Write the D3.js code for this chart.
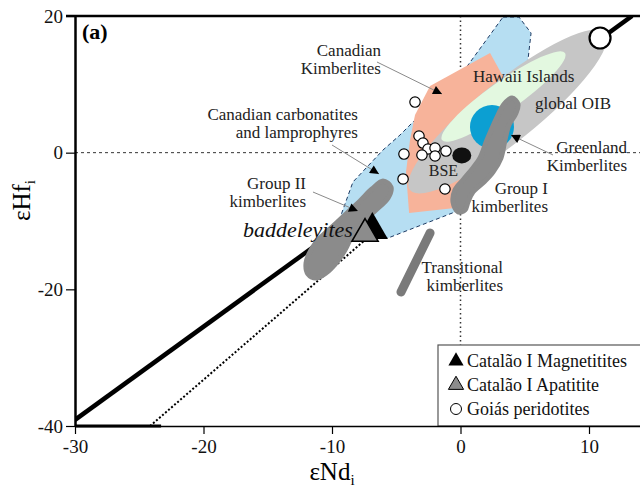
<!DOCTYPE html>
<meta charset="utf-8">
<style>

body {
  margin: 0;
  background: #fff;
}

svg, svg text {
  font-family: "Liberation Serif", "Times New Roman", Times, "DejaVu Serif", "Noto Serif", serif;
}

</style>
<body>
<script src="https://d3js.org/d3.v7.min.js"></script>
<script>

// axis ticks
var xTicks = [-30, -20, -10, 0, 10],
    yTicks = [-40, -20, 0, 20];

// reference lines, [εNd, εHf]
var terrestrialArray = [[-30, -39.1], [13.35, 20]],
    lowerArray = [[-24.16, -40], [-7.43, -12.78]];

// fields
var carbonatiteField = [[3.31, 19.85], [4.55, 19.85], [5.49, 17.51], [5.25, 13.56], [3.07, 7.71], [0.74, -6.93],
    [-0.43, -8.68], [-5.64, -12.49], [-9.38, -9.56], [-8.37, -4.29], [-6.03, 0.39], [-4.71, 2.58], [0.19, 11.80]];
var canadianKimberliteField = [[-2.37, 9.76], [2.30, 14.58], [3.46, 10.63], [0.74, -5.46], [-0.43, -8.10],
    [-4.0, -8.83], [-4.24, -2.83], [-3.93, 1.85], [-3.54, 5.51]];
var groupIField = [[4.01, 8.0], [4.47, 7.12], [4.32, 5.80], [3.77, 4.05], [3.46, 1.85], [3.15, -0.78], [2.53, -2.83],
    [1.83, -4.29], [0.97, -5.76], [0.58, -7.22], [0.35, -8.39], [-0.19, -8.68], [-0.58, -7.22], [-0.43, -5.46],
    [0.19, -4.0], [0.97, -2.24], [1.52, -0.78], [2.06, 1.85], [2.53, 3.90], [2.92, 5.51], [3.39, 7.12]];
var groupIIField = [[-6.03, -4.15], [-5.41, -5.03], [-5.64, -6.64], [-6.58, -8.39], [-7.59, -10.15], [-8.44, -12.20],
    [-8.99, -14.25], [-9.69, -16.15], [-10.47, -17.61], [-11.25, -18.34], [-11.87, -17.76], [-12.02, -16.15],
    [-11.63, -14.25], [-10.93, -12.49], [-9.92, -10.73], [-8.83, -8.83], [-7.82, -7.07], [-6.89, -5.32]];
var transitionalField = [[-2.37, -11.76], [-4.63, -20.39]];

// ellipse fields given by the ends of their long axis
var globalOIB = [[-3.93, -5.46], [11.25, 17.51]],
    hawaii = [[-1.44, 1.85], [8.13, 14.58]];
var greenland = [2.45, 3.76],
    bse = [0.1, -0.4];

// samples
var magnetitites = [[-6.86, -11.32]],
    apatitite = [[-7.43, -11.86]],
    goiasPeridotites = [[-3.54, 7.41], [-3.23, 2.44], [-2.92, 1.41], [-2.53, 0.54], [-1.98, 0.68], [-1.13, 0.24],
      [-4.40, -0.2], [-3.0, -0.34], [-1.98, -0.49], [-4.47, -3.85], [-1.21, -5.32]],
    goiasEndMember = [[10.86, 16.78]];

// labels: text lines, anchor point [εNd, εHf], alignment
var labels = [
  {lines: ["Canadian", "Kimberlites"], at: [-6.19, 14.15], anchor: "end"},
  {lines: ["Canadian carbonatites", "and lamprophyres"], at: [-7.98, 4.78], anchor: "end"},
  {lines: ["Group II", "kimberlites"], at: [-12.02, -5.32], anchor: "end"},
  {lines: ["Greenland", "Kimberlites"], at: [12.96, -0.05], anchor: "end"},
  {lines: ["Hawaii Islands"], at: [0.97, 10.34], anchor: "start"},
  {lines: ["global OIB"], at: [5.80, 6.39], anchor: "start"},
  {lines: ["Group I", "kimberlites"], at: [6.81, -6.05], anchor: "end"},
  {lines: ["Transitional", "kimberlites"], at: [3.31, -17.61], anchor: "end"}
];
var arrows = [
  [[-6.50, 13.27], [-1.44, 8.58]],
  [[-10.0, 1.12], [-6.34, -3.12]],
  [[-11.48, -5.76], [-7.98, -8.54]],
  [[7.20, -0.34], [3.93, 2.58]]
];
var legendItems = ["Catalão I Magnetitites", "Catalão I Apatitite", "Goiás peridotites"];

var width = 640, height = 495,
    serif = "'Liberation Serif', 'Times New Roman', Times, 'DejaVu Serif', serif";

var x = d3.scaleLinear([-30, 14], [75, 640.4]),
    y = d3.scaleLinear([-40, 20], [426, 16]);

var svg = d3.select("body").append("svg")
    .attr("width", width)
    .attr("height", height)
    .attr("font-family", serif);

var defs = svg.append("defs");
defs.append("clipPath").attr("id", "plot")
  .append("rect")
    .attr("x", x(-30)).attr("y", y(20))
    .attr("width", width - x(-30)).attr("height", y(-40) - y(20));
defs.append("marker")
    .attr("id", "arrow")
    .attr("viewBox", "0 0 10 10")
    .attr("refX", 10).attr("refY", 5)
    .attr("markerWidth", 11).attr("markerHeight", 9)
    .attr("markerUnits", "userSpaceOnUse")
    .attr("orient", "auto")
  .append("path")
    .attr("d", "M0,0L10,5L0,10z")
    .attr("fill", "#000");

var line = d3.line().x(d => x(d[0])).y(d => y(d[1]));
var plot = svg.append("g").attr("clip-path", "url(#plot)");

// zero lines
plot.append("line")
    .attr("x1", x(-30)).attr("x2", width)
    .attr("y1", y(0)).attr("y2", y(0))
    .attr("stroke", "#333").attr("stroke-dasharray", "3,3");
plot.append("line")
    .attr("x1", x(0)).attr("x2", x(0))
    .attr("y1", y(20)).attr("y2", y(-40))
    .attr("stroke", "#333").attr("stroke-width", 1.5).attr("stroke-dasharray", "1.5,3");

plot.append("path")
    .attr("d", line(terrestrialArray))
    .attr("stroke", "#000").attr("stroke-width", 4.5).attr("fill", "none");
plot.append("path")
    .attr("d", line(lowerArray))
    .attr("stroke", "#000").attr("stroke-width", 2).attr("stroke-dasharray", "2,2").attr("fill", "none");

var polygon = d3.line().x(d => x(d[0])).y(d => y(d[1])).curve(d3.curveLinearClosed),
    blob = d3.line().x(d => x(d[0])).y(d => y(d[1])).curve(d3.curveCatmullRomClosed.alpha(0.5));

plot.append("path")
    .attr("d", polygon(carbonatiteField))
    .attr("fill", "#b6def2")
    .attr("stroke", "#1d3a63").attr("stroke-dasharray", "4,3").attr("stroke-width", 1);
plot.append("path")
    .attr("d", polygon(canadianKimberliteField))
    .attr("fill", "#f7b39a");

function ellipse(ends, ry, fill) {
  var x0 = x(ends[0][0]), y0 = y(ends[0][1]), x1 = x(ends[1][0]), y1 = y(ends[1][1]);
  plot.append("ellipse")
      .attr("cx", 0).attr("cy", 0)
      .attr("rx", Math.hypot(x1 - x0, y1 - y0) / 2).attr("ry", ry)
      .attr("transform", "translate(" + [(x0 + x1) / 2, (y0 + y1) / 2] + ")rotate(" + Math.atan2(y1 - y0, x1 - x0) * 180 / Math.PI + ")")
      .attr("fill", fill);
}
ellipse(globalOIB, 30, "#c6c6c6");
ellipse(hawaii, 15, "#e3f8e0");

plot.append("circle")
    .attr("cx", x(greenland[0])).attr("cy", y(greenland[1])).attr("r", 22)
    .attr("fill", "#0c9fd2");

plot.selectAll("path.kimb").data([groupIField, groupIIField]).enter().append("path")
    .attr("class", "kimb")
    .attr("d", blob)
    .attr("fill", "#8b8b8b")
    .attr("stroke", "#8b8b8b").attr("stroke-width", 5).attr("stroke-linejoin", "round");
plot.append("path")
    .attr("d", line(transitionalField))
    .attr("stroke", "#7a7a7a").attr("stroke-width", 9).attr("stroke-linecap", "round");

plot.append("ellipse")
    .attr("cx", x(bse[0])).attr("cy", y(bse[1])).attr("rx", 9.5).attr("ry", 8)
    .attr("fill", "#111");
plot.append("text")
    .attr("x", x(bse[0]) - 33).attr("y", y(bse[1]) + 21)
    .attr("font-family", "'Liberation Sans', Arial, sans-serif")
    .attr("font-size", 16).attr("fill", "#222")
    .text("BSE");

// labels and arrows
var lab = plot.selectAll("text.lab").data(labels).enter().append("text")
    .attr("class", "lab")
    .attr("font-size", 17).attr("fill", "#222")
    .attr("text-anchor", d => d.anchor);
lab.selectAll("tspan").data(d => d.lines.map(t => ({t: t, d: d}))).enter().append("tspan")
    .attr("x", d => x(d.d.at[0]))
    .attr("y", (d, i) => y(d.d.at[1]) + i * 18)
    .text(d => d.t);

plot.selectAll("path.arrow").data(arrows).enter().append("path")
    .attr("class", "arrow")
    .attr("d", line)
    .attr("stroke", "#8a8a8a").attr("stroke-width", 1).attr("fill", "none")
    .attr("marker-end", "url(#arrow)");

plot.append("text")
    .attr("x", x(-16.93)).attr("y", y(-12.34))
    .attr("font-size", 22).attr("font-style", "italic").attr("fill", "#111")
    .text("baddeleyites");

// samples
var tri = d3.symbol(d3.symbolTriangle);
plot.selectAll("path.mag").data(magnetitites).enter().append("path")
    .attr("transform", d => "translate(" + x(d[0]) + "," + y(d[1]) + ")")
    .attr("d", tri.size(420)())
    .attr("fill", "#000");
plot.selectAll("path.apa").data(apatitite).enter().append("path")
    .attr("transform", d => "translate(" + x(d[0]) + "," + y(d[1]) + ")")
    .attr("d", tri.size(300)())
    .attr("fill", "#8c8c8c").attr("stroke", "#000").attr("stroke-width", 1.5);
plot.selectAll("circle.goias").data(goiasPeridotites).enter().append("circle")
    .attr("cx", d => x(d[0])).attr("cy", d => y(d[1])).attr("r", 5.2)
    .attr("fill", "#fff").attr("stroke", "#000").attr("stroke-width", 1.2);
plot.selectAll("circle.end").data(goiasEndMember).enter().append("circle")
    .attr("cx", d => x(d[0])).attr("cy", d => y(d[1])).attr("r", 10.5)
    .attr("fill", "#fff").attr("stroke", "#000").attr("stroke-width", 2.2);

plot.append("text")
    .attr("x", x(-30) + 7).attr("y", y(20) + 23)
    .attr("font-size", 22).attr("font-weight", "bold")
    .text("(a)");

// legend
var legend = svg.append("g").attr("transform", "translate(438,345)");
legend.append("rect")
    .attr("width", 210).attr("height", y(-40) - 345)
    .attr("fill", "#fff").attr("stroke", "#555").attr("stroke-width", 1.2);
legendItems.forEach(function(t, i) {
  var g = legend.append("g").attr("transform", "translate(18," + (16 + i * 24) + ")");
  if (i < 2) g.append("path").attr("d", d3.symbol(d3.symbolTriangle, 100)())
      .attr("fill", i === 0 ? "#000" : "#8c8c8c").attr("stroke", "#000").attr("stroke-width", i === 0 ? 0 : 1);
  else g.append("circle").attr("r", 5.5).attr("fill", "#fff").attr("stroke", "#000").attr("stroke-width", 1);
  g.append("text").attr("x", 11).attr("y", 6).attr("font-size", 18).attr("fill", "#111").text(t);
});

// axes
var xAxis = svg.append("g")
    .attr("transform", "translate(0," + y(-40) + ")")
    .call(d3.axisBottom(x).tickValues(xTicks).tickFormat(String).tickSize(8).tickSizeOuter(0).tickPadding(6));
var yAxis = svg.append("g")
    .attr("transform", "translate(" + x(-30) + ",0)")
    .call(d3.axisLeft(y).tickValues(yTicks).tickFormat(String).tickSize(9).tickSizeOuter(0).tickPadding(3));
svg.selectAll(".tick text").attr("font-family", serif).attr("font-size", 19).attr("fill", "#111");
xAxis.attr("font-family", serif).select(".domain").attr("stroke-width", 1.5);
yAxis.attr("font-family", serif).select(".domain").attr("stroke-width", 2.5);
svg.selectAll(".tick line").attr("stroke-width", 1.2);

svg.append("line")
    .attr("x1", x(-30) - 9).attr("x2", width)
    .attr("y1", y(20)).attr("y2", y(20))
    .attr("stroke", "#000").attr("stroke-width", 2.5);
svg.append("line")
    .attr("x1", x(-30)).attr("x2", x(-23.3))
    .attr("y1", y(-40)).attr("y2", y(-40))
    .attr("stroke", "#000").attr("stroke-width", 3);

svg.append("text")
    .attr("x", x(-10)).attr("y", 480)
    .attr("text-anchor", "middle").attr("font-size", 25)
    .text("εNd")
  .append("tspan").attr("font-size", 15).attr("dy", 5).text("i");
svg.append("text")
    .attr("transform", "translate(30," + y(-7) + ")rotate(-90)")
    .attr("text-anchor", "middle").attr("font-size", 25)
    .text("εHf")
  .append("tspan").attr("font-size", 15).attr("dy", 5).text("i");

</script>
